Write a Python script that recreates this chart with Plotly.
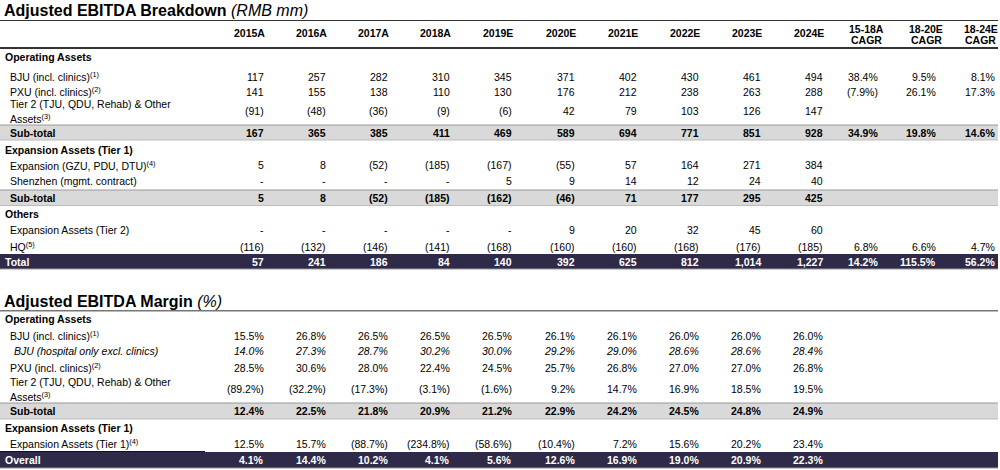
import plotly.graph_objects as go

# ---------------- data ----------------
years = ["2015A", "2016A", "2017A", "2018A", "2019E", "2020E", "2021E", "2022E", "2023E", "2024E"]
cagr_top = ["15-18A", "18-20E", "18-24E"]
cagr_bottom = ["CAGR", "CAGR", "CAGR"]

ebitda_bju = [117, 257, 282, 310, 345, 371, 402, 430, 461, 494]
ebitda_pxu = [141, 155, 138, 110, 130, 176, 212, 238, 263, 288]
ebitda_tier2 = [-91, -48, -36, -9, -6, 42, 79, 103, 126, 147]
ebitda_op_sub = [167, 365, 385, 411, 469, 589, 694, 771, 851, 928]
ebitda_expansion = [5, 8, -52, -185, -167, -55, 57, 164, 271, 384]
ebitda_shenzhen = [None, None, None, None, 5, 9, 14, 12, 24, 40]
ebitda_exp_sub = [5, 8, -52, -185, -162, -46, 71, 177, 295, 425]
ebitda_exp_tier2 = [None, None, None, None, None, 9, 20, 32, 45, 60]
ebitda_hq = [-116, -132, -146, -141, -168, -160, -160, -168, -176, -185]
ebitda_total = [57, 241, 186, 84, 140, 392, 625, 812, 1014, 1227]

cagr_bju = [38.4, 9.5, 8.1]
cagr_pxu = [-7.9, 26.1, 17.3]
cagr_op_sub = [34.9, 19.8, 14.6]
cagr_hq = [6.8, 6.6, 4.7]
cagr_total = [14.2, 115.5, 56.2]

margin_bju = [15.5, 26.8, 26.5, 26.5, 26.5, 26.1, 26.1, 26.0, 26.0, 26.0]
margin_bju_hosp = [14.0, 27.3, 28.7, 30.2, 30.0, 29.2, 29.0, 28.6, 28.6, 28.4]
margin_pxu = [28.5, 30.6, 28.0, 22.4, 24.5, 25.7, 26.8, 27.0, 27.0, 26.8]
margin_tier2 = [-89.2, -32.2, -17.3, -3.1, -1.6, 9.2, 14.7, 16.9, 18.5, 19.5]
margin_sub = [12.4, 22.5, 21.8, 20.9, 21.2, 22.9, 24.2, 24.5, 24.8, 24.9]
margin_exp_tier1 = [12.5, 15.7, -88.7, -234.8, -58.6, -10.4, 7.2, 15.6, 20.2, 23.4]
margin_overall = [4.1, 14.4, 10.2, 4.1, 5.6, 12.6, 16.9, 19.0, 20.9, 22.3]

# ---------------- layout constants ----------------
FONT = "Liberation Sans, Arial, sans-serif"
FS = 10.5
NAVY = "#2e2a48"
GREY_BAND = "#d9d9d9"
col_x = [265.5 + 62.2 * i for i in range(len(years))]
cagr_x = [880, 938, 997]
cagr_head_x = [866, 926, 980.5]


def fmt_int(v):
    if v is None:
        return "-"
    if v < 0:
        return "({:,})".format(abs(v))
    return "{:,}".format(v)


def fmt_pct(v):
    if v is None:
        return ""
    if v < 0:
        return "({:.1f}%)".format(abs(v))
    return "{:.1f}%".format(v)


annotations = []
shapes = []


def txt(x, y, s, anchor="left", bold=False, italic=False, color="#000", size=FS, align="left"):
    if bold:
        s = "<b>" + s + "</b>"
    if italic:
        s = "<i>" + s + "</i>"
    annotations.append(dict(x=x, y=y, xref="x", yref="y", text=s, showarrow=False,
                            xanchor=anchor, yanchor="middle", align=align,
                            font=dict(family=FONT, size=size, color=color)))


def hline(y, x0=0, x1=998, color="#444", width=1):
    shapes.append(dict(type="line", xref="x", yref="y", x0=x0, x1=x1, y0=y, y1=y,
                       line=dict(color=color, width=width)))


def band(y0, y1, fill, edge_top=None, edge_bot=None):
    shapes.append(dict(type="rect", xref="x", yref="y", x0=0, x1=998, y0=y0, y1=y1,
                       fillcolor=fill, line=dict(width=0), layer="below"))
    if edge_top:
        hline(y0, color=edge_top, width=1)
    if edge_bot:
        hline(y1, color=edge_bot, width=1)


def row(y, values, fmt, bold=False, italic=False, color="#000", cagr=None):
    for i, v in enumerate(values):
        txt(col_x[i], y, fmt(v), anchor="right", bold=bold, italic=italic, color=color)
    if cagr:
        for j, v in enumerate(cagr):
            txt(cagr_x[j], y, fmt_pct(v), anchor="right", bold=bold, color=color)


# ---------------- section 1 ----------------
txt(2, 10, "<b>Adjusted EBITDA Breakdown</b> <i>(RMB mm)</i>", size=16)
hline(20.5, color="#333", width=1)
for i, yv in enumerate(years):
    txt(col_x[i] + 1, 33, yv, anchor="right", bold=True)
for j in range(3):
    txt(cagr_head_x[j], 28.5, cagr_top[j], anchor="center", bold=True)
    txt(cagr_head_x[j], 39.5, cagr_bottom[j], anchor="center", bold=True)
hline(48, color="#333", width=2)

txt(3, 57, "Operating Assets", bold=True)
txt(8, 76.5, "BJU (incl. clinics)<sup>(1)</sup>")
row(76.5, ebitda_bju, fmt_int, cagr=cagr_bju)
txt(8, 91.5, "PXU (incl. clinics)<sup>(2)</sup>")
row(91.5, ebitda_pxu, fmt_int, cagr=cagr_pxu)
txt(8, 103.5, "Tier 2 (TJU, QDU, Rehab) & Other")
txt(8, 118.5, "Assets<sup>(3)</sup>")
row(110.5, ebitda_tier2, fmt_int)
band(125, 140, GREY_BAND, "#9a9a9a", "#bdbdbd")
txt(8, 132.5, "Sub-total", bold=True)
row(132.5, ebitda_op_sub, fmt_int, bold=True, cagr=cagr_op_sub)

txt(3, 149.5, "Expansion Assets (Tier 1)", bold=True)
txt(8, 165, "Expansion (GZU, PDU, DTU)<sup>(4)</sup>")
row(165, ebitda_expansion, fmt_int)
txt(8, 181, "Shenzhen (mgmt. contract)")
row(181, ebitda_shenzhen, fmt_int)
band(190, 205.5, GREY_BAND, "#9a9a9a", "#bdbdbd")
txt(8, 197.5, "Sub-total", bold=True)
row(197.5, ebitda_exp_sub, fmt_int, bold=True)

txt(3, 214, "Others", bold=True)
txt(8, 230, "Expansion Assets (Tier 2)")
row(230, ebitda_exp_tier2, fmt_int)
txt(8, 246.5, "HQ<sup>(5)</sup>")
row(246.5, ebitda_hq, fmt_int, cagr=cagr_hq)
band(254, 269, NAVY, None, "#9a9a9a")
txt(3, 261.5, "Total", bold=True, color="#fff")
row(261.5, ebitda_total, fmt_int, bold=True, color="#fff", cagr=cagr_total)

# ---------------- section 2 ----------------
txt(2, 301.5, "<b>Adjusted EBITDA Margin</b> <i>(%)</i>", size=16)
hline(310.7, color="#777", width=1.5)
txt(3, 319, "Operating Assets", bold=True)
txt(8, 335.5, "BJU (incl. clinics)<sup>(1)</sup>")
row(335.5, margin_bju, fmt_pct)
txt(11.5, 351, "BJU (hospital only excl. clinics)", italic=True)
row(351, margin_bju_hosp, fmt_pct, italic=True)
txt(8, 367.5, "PXU (incl. clinics)<sup>(2)</sup>")
row(367.5, margin_pxu, fmt_pct)
txt(8, 382, "Tier 2 (TJU, QDU, Rehab) & Other")
txt(8, 396.5, "Assets<sup>(3)</sup>")
row(389, margin_tier2, fmt_pct)
band(403, 419, GREY_BAND, "#9a9a9a", "#bdbdbd")
txt(8, 411, "Sub-total", bold=True)
row(411, margin_sub, fmt_pct, bold=True)

txt(3, 427.5, "Expansion Assets (Tier 1)", bold=True)
txt(8, 443.5, "Expansion Assets (Tier 1)<sup>(4)</sup>")
row(443.5, margin_exp_tier1, fmt_pct)
band(452, 468, NAVY, None, "#9a9a9a")
hline(451.5, x0=0, x1=205, color="#111", width=1)
txt(3, 460, "Overall", bold=True, color="#fff")
row(460, margin_overall, fmt_pct, bold=True, color="#fff")

fig = go.Figure()
fig.add_trace(go.Scatter(x=[0, 1000], y=[0, 470], mode="markers",
                         marker=dict(opacity=0), hoverinfo="skip", showlegend=False))
fig.update_layout(
    width=1000, height=470, autosize=False,
    margin=dict(l=0, r=0, t=0, b=0, pad=0),
    paper_bgcolor="#fff", plot_bgcolor="#fff",
    xaxis=dict(range=[0, 1000], visible=False, fixedrange=True),
    yaxis=dict(range=[470, 0], visible=False, fixedrange=True),
    annotations=annotations, shapes=shapes, showlegend=False,
)
fig.write_html("out.html", config={"displayModeBar": False},
               post_script="document.body.style.margin='0';document.body.style.overflow='hidden';")
